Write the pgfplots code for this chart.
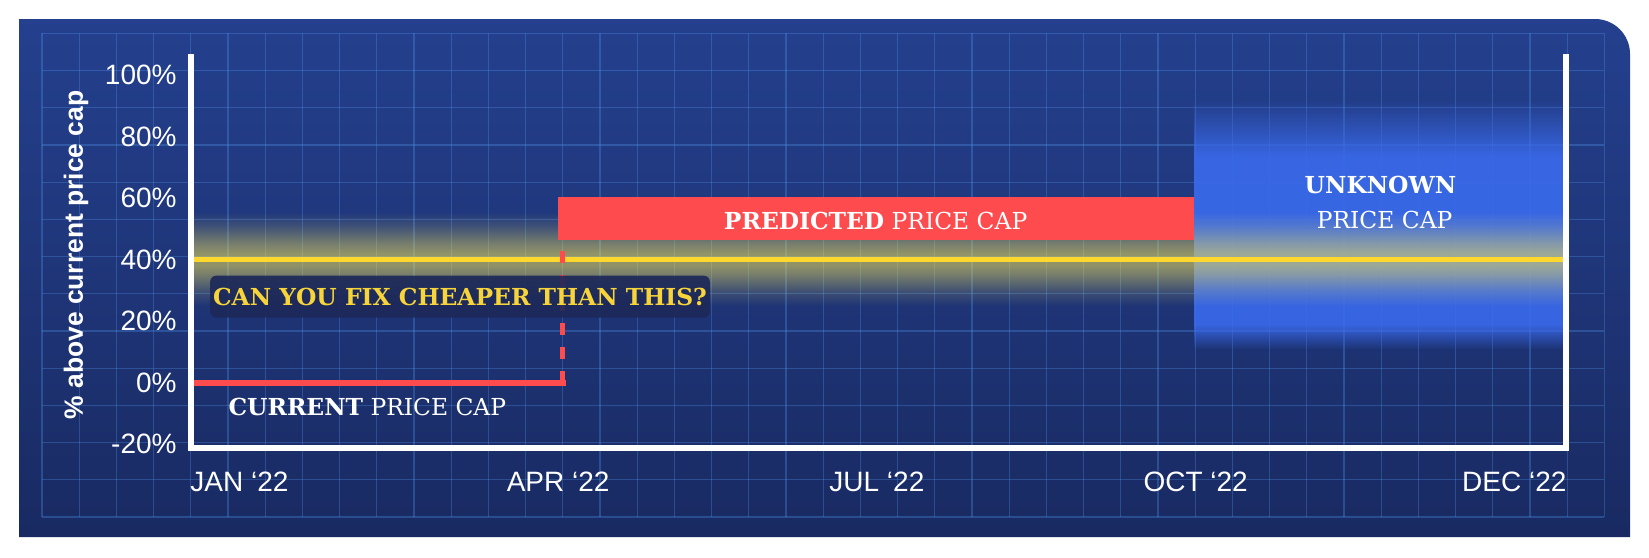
\documentclass[border=0pt]{standalone}
\usepackage{fontspec}
\setmainfont{Liberation Sans}
\newfontfamily\slab{DejaVu Serif}
\usepackage{pgfplots}
\pgfplotsset{compat=1.18}
\usetikzlibrary{fadings}

\definecolor{paneltop}{RGB}{36,64,142}
\definecolor{panelbot}{RGB}{25,42,98}
\definecolor{gridblue}{RGB}{80,150,235}
\definecolor{capred}{RGB}{253,75,78}
\definecolor{capyellow}{RGB}{254,216,44}
\definecolor{glowyellow}{RGB}{240,225,90}
\definecolor{unkblue}{RGB}{58,106,236}
\definecolor{boxnavy}{RGB}{28,40,88}
\definecolor{asktext}{RGB}{247,212,58}

% soft glow round the 40% line
\pgfdeclareverticalshading{glowshade}{100bp}{color(0bp)=(black); color(25bp)=(black); color(33bp)=(white!30!black); color(42bp)=(white!78!black); color(47bp)=(white); color(53bp)=(white); color(58bp)=(white!78!black); color(67bp)=(white!30!black); color(75bp)=(black); color(100bp)=(black)}
\pgfdeclarefading{glowfade}{\pgfuseshading{glowshade}}
% blurred edges of the unknown band
\pgfdeclareverticalshading{unkshade}{100bp}{color(0bp)=(black); color(25bp)=(black); color(30.2bp)=(white); color(63.5bp)=(white); color(75bp)=(black); color(100bp)=(black)}
\pgfdeclarefading{unkfade}{\pgfuseshading{unkshade}}

\newcommand{\slabfont}{\slab\fontsize{11.7}{14}\selectfont}

\begin{document}
\begin{tikzpicture}
  % background panel and grid, in image pixels
  \begin{scope}[x=0.5pt,y=-0.5pt]
    \fill[white] (0,0) rectangle (1649,557);
    \shade[top color=paneltop, bottom color=panelbot]
      (19,537) -- (19,19) [rounded corners=17.5pt] -- (1630,19) [sharp corners] -- (1630,537) -- cycle;
    \foreach \i in {0,...,42}
      \draw[gridblue, opacity=0.32, line width=0.6pt] ({42+37.2*\i},33.4) -- ({42+37.2*\i},517);
    \foreach \j in {0,...,13}
      \draw[gridblue, opacity=0.32, line width=0.6pt] (42,{33.4+37.2*\j}) -- (1604.4,{33.4+37.2*\j});
  \end{scope}

  \begin{axis}[
    at={(95.5pt,-224pt)}, anchor=south west,
    scale only axis, width=687.5pt, height=197pt,
    xmin=-0.152, xmax=4.162, ymin=-21.2, ymax=106.9,
    axis line style={draw=none}, major tick length=0pt,
    xtick={0,1,2,3,4},
    xticklabels={JAN ‘22,APR ‘22,JUL ‘22,OCT ‘22,DEC ‘22},
    ytick={-20,0,20,40,60,80,100},
    yticklabels={-20\%,0\%,20\%,40\%,60\%,80\%,100\%},
    tick label style={font=\fontsize{14}{16}\selectfont, text=white, inner sep=0pt},
    xticklabel style={anchor=north, yshift=-12pt},
    yticklabel style={anchor=east, xshift=-7pt},
    ylabel={\% above current price cap},
    every axis y label/.style={at={(axis description cs:-0.0836,0.490)}, rotate=90, anchor=center,
      font=\bfseries\fontsize{13.2}{15}\selectfont, text=white},
    clip=false,
  ]
    % unknown price cap band
    \addplot[draw=none, fill=unkblue, fill opacity=0.92, path fading=unkfade]
      coordinates {(2.994,10.9) (4.162,10.9) (4.162,92) (2.994,92)} -- cycle;
    % glow
    \addplot[draw=none, fill=glowyellow, fill opacity=0.55, path fading=glowfade]
      coordinates {(-0.152,25) (4.162,25) (4.162,55.5) (-0.152,55.5)} -- cycle;
    % predicted price cap
    \addplot[draw=none, fill=capred]
      coordinates {(1.0,46.4) (2.994,46.4) (2.994,60.5) (1.0,60.5)} -- cycle;
    % fix level
    \addplot[capyellow, line width=2.7pt] coordinates {(-0.152,40) (4.162,40)};
    % current price cap
    \addplot[capred, line width=3.2pt] coordinates {(-0.152,0) (1.024,0)};
    \addplot[capred, line width=2.8pt, dash pattern=on 6pt off 6pt]
      coordinates {(1.014,0) (1.014,46.6)};

    \node[fill=boxnavy, fill opacity=0.9, text opacity=1, rounded corners=3pt,
      minimum width=249.8pt, minimum height=21pt, inner sep=0pt, text=asktext,
      font=\slabfont\bfseries] at (axis cs:0.692,28.0) {CAN YOU FIX CHEAPER THAN THIS?};
    \node[text=white, inner sep=0pt, font=\slabfont] at (axis cs:1.996,52.7)
      {\textbf{PREDICTED} PRICE CAP};
    \node[anchor=west, text=white, inner sep=0pt, font=\slabfont] at (axis cs:-0.0355,-7.9)
      {\textbf{CURRENT} PRICE CAP};
    \node[text=white, inner sep=0pt, font=\slabfont\bfseries] at (axis cs:3.58,64.3) {UNKNOWN};
    \node[text=white, inner sep=0pt, font=\slabfont] at (axis cs:3.593,53) {PRICE CAP};

    \draw[white, line width=2.85pt] (rel axis cs:0,1) -- (rel axis cs:0,0)
      -- (rel axis cs:1,0) -- (rel axis cs:1,1);
  \end{axis}
  \pgfresetboundingbox
  \path[use as bounding box] (0,0) rectangle (824.5pt,-278.5pt);
\end{tikzpicture}
\end{document}
